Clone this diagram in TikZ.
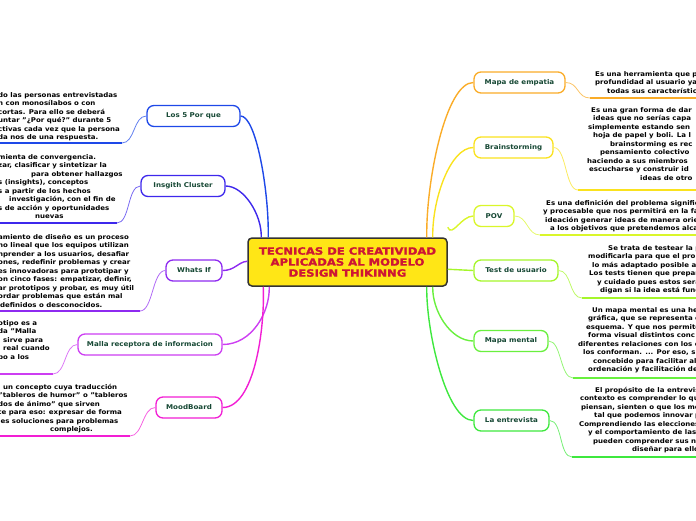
\documentclass[tikz,border=0pt]{standalone}
\usepackage{fontspec}
\setmainfont{DejaVu Sans}[FakeStretch=1.08]
\newfontfamily\titlefont{DejaVu Sans}[FakeStretch=1.16,FakeBold=1.6]
\definecolor{topictext}{RGB}{22,72,52}
\definecolor{titlered}{RGB}{205,22,52}
\definecolor{titlefill}{RGB}{255,230,22}
\definecolor{cA}{RGB}{30,72,232}
\definecolor{cB}{RGB}{62,40,236}
\definecolor{cC}{RGB}{142,42,240}
\definecolor{cD}{RGB}{205,62,242}
\definecolor{cE}{RGB}{242,30,212}
\definecolor{cF}{RGB}{250,172,40}
\definecolor{cG}{RGB}{250,226,30}
\definecolor{cH}{RGB}{218,246,42}
\definecolor{cI}{RGB}{165,246,42}
\definecolor{cJ}{RGB}{105,240,62}
\definecolor{cK}{RGB}{62,232,62}
\begin{document}
\begin{tikzpicture}[x=1pt,y=-1pt]
  \tikzstyle{topic}=[rounded corners=7pt,line width=1.3pt,fill=white,text=topictext,font=\bfseries\fontsize{6.6}{8}\selectfont,minimum height=21pt,inner sep=0pt]
  \tikzstyle{note}=[font=\bfseries\fontsize{6.5}{8.5}\selectfont,align=left,anchor=north west,inner sep=0pt]
  \tikzstyle{link}=[line width=1.4pt]
  \tikzstyle{twig}=[line width=0.8pt]
  \tikzstyle{base}=[line width=1.8pt]
  \useasboundingbox (0,0) rectangle (696,520);
  \clip (0,0) rectangle (696,520);

  % central topic
  \node [draw=black!80,fill=titlefill,rounded corners=4pt,line width=1.5pt,minimum width=199pt,minimum height=48pt,
         text=titlered,align=center,font=\titlefont\bfseries\fontsize{10}{11}\selectfont] (c) at (347.5,262)
        {TECNICAS DE CREATIVIDAD\\APLICADAS AL MODELO\\DESIGN THIKINNG};

  % left topics
  \node [topic,draw=cA,minimum width=93pt] (n1) at (193.5,116) {Los 5 Por que};
  \node [topic,draw=cB,minimum width=84pt] (n2) at (183,186) {Insgith Cluster};
  \node [topic,draw=cC,minimum width=56pt] (n3) at (194,270.5) {Whats If};
  \node [topic,draw=cD,minimum width=144pt] (n4) at (150,344.5) {Malla receptora de informacion};
  \node [topic,draw=cE,minimum width=66pt] (n5) at (189,407.5) {MoodBoard};

  % right topics
  \node [topic,draw=cF,minimum width=91pt] (n6) at (519.5,82.5) {Mapa de empatia};
  \node [topic,draw=cG,minimum width=79pt] (n7) at (513.5,147.5) {Brainstorming};
  \node [topic,draw=cH,minimum width=40pt] (n8) at (494,216) {POV};
  \node [topic,draw=cI,minimum width=84pt] (n9) at (516,270.5) {Test de usuario};
  \node [topic,draw=cJ,minimum width=74pt] (n10) at (511,341) {Mapa mental};
  \node [topic,draw=cK,minimum width=75pt] (n11) at (511.5,420.5) {La entrevista};

  % center to topics
  \draw [link,cA] (n1.east) .. controls (256,116) and (269,190) .. ([xshift=21pt]c.north west);
  \draw [link,cB] (n2.east) .. controls (244,186) and (262,215) .. ([xshift=14pt]c.north west);
  \draw [link,cC] (n3.east) .. controls (235,270.5) and (238,262) .. ([yshift=-24pt]c.north west);
  \draw [link,cD] (n4.east) .. controls (252,344.5) and (270,312) .. ([xshift=22pt]c.south west);
  \draw [link,cE] (n5.east) .. controls (254,407.5) and (265,330) .. ([xshift=16pt]c.south west);
  \draw [link,cF] (n6.west) .. controls (446,82.5) and (426,180) .. ([xshift=-21pt]c.north east);
  \draw [link,cG] (n7.west) .. controls (450,147.5) and (432,200) .. ([xshift=-15pt]c.north east);
  \draw [link,cH] (n8.west) .. controls (461,216) and (452,238) .. ([yshift=10pt]c.north east);
  \draw [link,cI] (n9.west) -- ([yshift=-32pt]c.north east);
  \draw [link,cJ] (n10.west) .. controls (450,341) and (432,310) .. ([xshift=-15pt]c.south east);
  \draw [link,cK] (n11.west) .. controls (446,420.5) and (426,330) .. ([xshift=-21pt]c.south east);

  % underline ends
  \coordinate (u1) at (122,143);  \coordinate (e1) at (0,143);
  \coordinate (u2) at (117,223);  \coordinate (e2) at (0,223);
  \coordinate (u3) at (140,311);  \coordinate (e3) at (0,311);
  \coordinate (u4) at (53,374);   \coordinate (e4) at (0,374);
  \coordinate (u5) at (130,436);  \coordinate (e5) at (0,436);
  \coordinate (u6) at (590,98);   \coordinate (e6) at (696,98);
  \coordinate (u7) at (578,190);  \coordinate (e7) at (696,190);
  \coordinate (u8) at (540,235);  \coordinate (e8) at (696,235);
  \coordinate (u9) at (582,298);  \coordinate (e9) at (696,298);
  \coordinate (u10) at (573,378); \coordinate (e10) at (696,378);
  \coordinate (u11) at (572,457); \coordinate (e11) at (696,457);

  \foreach \n/\col in {1/cA,2/cB,3/cC,4/cD,5/cE}{
    \draw [twig,\col!70] (n\n.west) .. controls +(-13,0) and +(13,0) .. (u\n);
    \draw [base,\col] (u\n) -- (e\n);
  }
  \foreach \n/\col in {6/cF,7/cG,8/cH,9/cI,10/cJ,11/cK}{
    \draw [twig,\col!70] (n\n.east) .. controls +(13,0) and +(-13,0) .. (u\n);
    \draw [base,\col] (u\n) -- (e\n);
  }

  % notes, left
  \node [note] (t1) at (-2,92) {do las personas entrevistadas\\n con monosílabos o con\\cortas. Para ello se deberá\\untar "¿Por qué?" durante 5\\ctivas cada vez que la persona\\da nos de una respuesta.};
  \node [note] (t2) at (-2,154) {mienta de convergencia.\\zar, clasificar y sintetizar la\\\hspace*{33pt}para obtener hallazgos\\s (insights), conceptos\\s a partir de los hechos\\\hspace*{11pt}investigación, con el fin de\\s de acción y oportunidades\\\hspace*{37pt}nuevas};
  \node [note] (t3) at (-2,234) {amiento de diseño es un proceso\\no lineal que los equipos utilizan\\nprender a los usuarios, desafiar\\ones, redefinir problemas y crear\\es innovadoras para prototipar y\\on cinco fases: empatizar, definir,\\ar prototipos y probar, es muy útil\\ordar problemas que están mal\\\hspace*{2pt}definidos o desconocidos.};
  \node [note] (t4) at (-2,320) {otipo es a\\da "Malla\\\hspace*{5pt}sirve para\\\hspace*{5pt}real cuando\\po a los};
  \node [note] (t5) at (-2,384) {\hspace*{5pt}un concepto cuya traducción\\"tableros de humor" o "tableros\\dos de ánimo" que sirven\\te para eso: expresar de forma\\les soluciones para problemas\\\hspace*{52pt}complejos.};

  % notes, right
  \node [note] (t6) at (595,71) {Es una herramienta que p\\profundidad al usuario ya\\\hspace*{12pt}todas sus característic};
  \node [note] (t7) at (587,107) {\hspace*{4pt}Es una gran forma de dar\\\hspace*{6pt}ideas que no serías capa\\\hspace*{1pt}simplemente estando sen\\\hspace*{6pt}hoja de papel y boli. La l\\\hspace*{23pt}brainstorming es rec\\\hspace*{13pt}pensamiento colectivo\\haciendo a sus miembros\\\hspace*{2pt}escucharse y construir id\\\hspace*{53pt}ideas de otro};
  \node [note] (t8) at (543,200) {\hspace*{3pt}Es una definición del problema signific\\y procesable que nos permitirá en la fa\\\hspace*{2pt}ideación generar ideas de manera orie\\\hspace*{7pt}a los objetivos que pretendemos alca};
  \node [note] (t9) at (588,245) {\hspace*{20pt}Se trata de testear la p\\modificarla para que el pro\\\hspace*{4pt}lo más adaptado posible al\\\hspace*{1pt}Los tests tienen que prepar\\\hspace*{9pt}y cuidado pues estos sera\\\hspace*{12pt}digan si la idea está func};
  \node [note] (t10) at (578,307) {\hspace*{14pt}Un mapa mental es una he\\\hspace*{10pt}gráfica, que se representa e\\\hspace*{8pt}esquema. Y que nos permite\\\hspace*{10pt}forma visual distintos conc\\diferentes relaciones con los e\\\hspace*{5pt}los conforman. ... Por eso, su\\\hspace*{15pt}concebido para facilitar al\\\hspace*{10pt}ordenación y facilitación de};
  \node [note] (t11) at (579,387) {\hspace*{16pt}El propósito de la entrevis\\\hspace*{1pt}contexto es comprender lo qu\\\hspace*{2pt}piensan, sienten o que los mo\\\hspace*{15pt}tal que podemos innovar p\\Comprendiendo las elecciones\\\hspace*{9pt}y el comportamiento de las\\\hspace*{14pt}pueden comprender sus ne\\\hspace*{53pt}diseñar para ello};
\end{tikzpicture}
\end{document}
